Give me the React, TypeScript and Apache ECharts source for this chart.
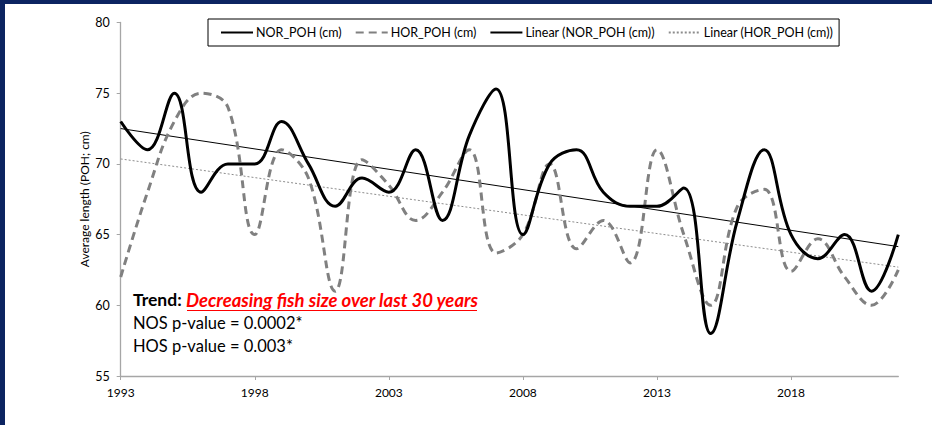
import React, { useEffect, useRef } from "react";
import * as echarts from "echarts";

const years = ["1993","1994","1995","1996","1997","1998","1999","2000","2001","2002","2003","2004","2005","2006","2007","2008","2009","2010","2011","2012","2013","2014","2015","2016","2017","2018","2019","2020","2021","2022"];
const norPoh = [73, 71, 75, 68, 70, 70, 73, 70, 67, 69, 68, 71, 66, 72, 75.3, 65, 70, 71, 68, 67, 67, 68.3, 58, 66, 71, 65, 63.3, 65, 61, 65];
const horPoh = [62, 68, 73, 75, 74, 65, 71, 69, 61, 70.3, 68.5, 66, 68, 71, 63.7, 65, 70, 64, 66, 63, 71, 65, 60, 67, 68.2, 62.4, 64.7, 62, 60, 62.5];
const trendYears = ["1993", "2022"];
const trendNor = [72.5, 64.15];
const trendHor = [70.35, 62.7];
const yTicks = { min: 55, max: 80, interval: 5 };

const FONT = "Lato, 'Open Sans', sans-serif";
const OX = 5;
const OY = 4;

export default function App() {
  const ref = useRef<HTMLDivElement>(null);
  useEffect(() => {
    if (!ref.current) return;
    const chart = echarts.init(ref.current, null, { renderer: "svg" });
    chart.setOption({
      animation: false,
      backgroundColor: "#ffffff",
      textStyle: { fontFamily: FONT },
      grid: { left: 120.7 - OX, right: 33.7, top: 22.5 - OY, bottom: 49 },
      legend: {
        left: 208 - OX,
        top: 19 - OY,
        padding: [7, 6, 7, 12],
        itemGap: 13,
        itemWidth: 32,
        itemHeight: 12,
        borderColor: "#000",
        borderWidth: 1,
        backgroundColor: "#fff",
        itemStyle: { opacity: 0 },
        textStyle: { fontFamily: FONT, fontSize: 12.5, color: "#000", padding: [0, 0, 0, -2] },
        data: ["NOR_POH (cm)", "HOR_POH (cm)", "Linear (NOR_POH (cm))", "Linear (HOR_POH (cm))"],
      },
      xAxis: {
        type: "category",
        data: years,
        boundaryGap: false,
        axisLine: { lineStyle: { color: "#a6a6a6", width: 1.3 } },
        axisTick: { interval: 4, length: 4, lineStyle: { color: "#a6a6a6" } },
        axisLabel: { interval: 4, color: "#000", fontSize: 12, margin: 10, fontFamily: FONT },
        splitLine: { show: false },
      },
      yAxis: {
        type: "value",
        min: yTicks.min,
        max: yTicks.max,
        interval: yTicks.interval,
        name: "Average length (POH; cm)",
        nameLocation: "middle",
        nameGap: 30,
        nameMoveOverlap: false,
        nameTextStyle: { fontSize: 12, color: "#000", fontFamily: FONT },
        axisLine: { show: true, lineStyle: { color: "#a6a6a6", width: 1.3 } },
        axisTick: { show: true, length: 4, lineStyle: { color: "#a6a6a6" } },
        axisLabel: { color: "#000", fontSize: 12.5, margin: 11, fontFamily: FONT },
        splitLine: { show: false },
      },
      series: [
        {
          name: "NOR_POH (cm)",
          type: "line",
          data: norPoh,
          smooth: 0.4,
          symbol: "none",
          lineStyle: { color: "#000", width: 3 },
          itemStyle: { color: "#000" },
          z: 4,
        },
        {
          name: "HOR_POH (cm)",
          type: "line",
          data: horPoh,
          smooth: 0.4,
          symbol: "none",
          lineStyle: { color: "#808080", width: 3, type: [8, 5] },
          itemStyle: { color: "#808080" },
          z: 3,
        },
        {
          name: "Linear (NOR_POH (cm))",
          type: "line",
          data: trendYears.map((y, i) => [y, trendNor[i]]),
          symbol: "none",
          lineStyle: { color: "#000", width: 1 },
          itemStyle: { color: "#000" },
          z: 2,
        },
        {
          name: "Linear (HOR_POH (cm))",
          type: "line",
          data: trendYears.map((y, i) => [y, trendHor[i]]),
          symbol: "none",
          lineStyle: { color: "#8c8c8c", width: 1, type: [2, 2] },
          itemStyle: { color: "#8c8c8c" },
          z: 2,
        },
      ],
      graphic: [
        {
          type: "text",
          left: 133 - OX,
          top: 290 - OY,
          style: {
            text: "{b|Trend: }{r|Decreasing fish size over last 30 years}",
            rich: {
              b: { fontFamily: FONT, fontSize: 17.5, fontWeight: "bold", fill: "#000", color: "#000" },
              r: { fontFamily: FONT, fontSize: 18.5, fontWeight: "bold", fontStyle: "italic", fill: "#ff0000", color: "#ff0000" },
            },
          },
        },
        {
          type: "line",
          shape: { x1: 187 - OX, y1: 310.5 - OY, x2: 477 - OX, y2: 310.5 - OY },
          style: { stroke: "#ff0000", lineWidth: 1.2 },
        },
        {
          type: "text",
          left: 133 - OX,
          top: 314 - OY,
          style: { text: "NOS p-value = 0.0002*", fontFamily: FONT, fontSize: 16.5, fill: "#000" },
        },
        {
          type: "text",
          left: 133 - OX,
          top: 337 - OY,
          style: { text: "HOS p-value = 0.003*", fontFamily: FONT, fontSize: 16.5, fill: "#000" },
        },
      ],
    });
    return () => chart.dispose();
  }, []);
  return (
    <div style={{ position: "fixed", left: 0, top: 0, width: 932, height: 425, background: "#0c2461" }}>
      <div ref={ref} style={{ position: "absolute", left: OX, top: OY, width: 932 - OX, height: 425 - OY }} />
    </div>
  );
}
